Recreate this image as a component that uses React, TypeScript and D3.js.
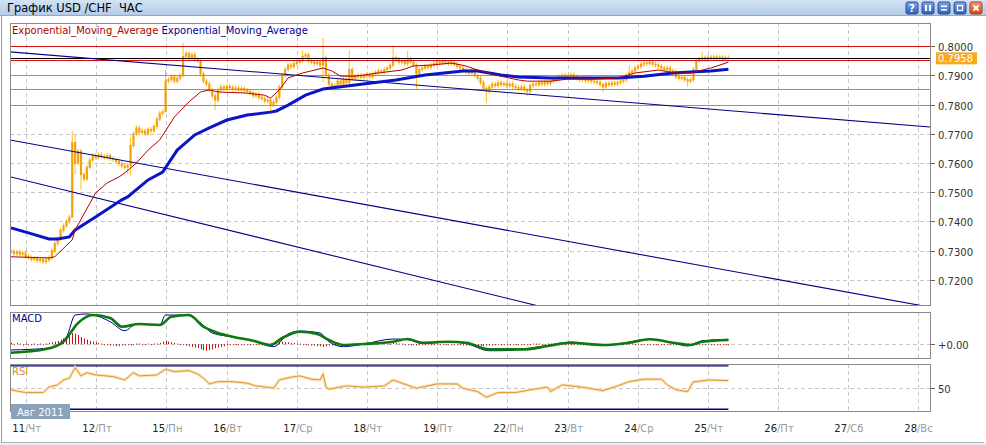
import React, { useEffect, useRef } from 'react';
import * as d3 from 'd3';

const W = 986;
const H = 445;

// day labels: hour-bar index where each trading day starts
const dayNums = ['11', '12', '15', '16', '17', '18', '19', '22', '23', '24', '25', '26', '27', '28'];
const dayNames = ['Чт', 'Пт', 'Пн', 'Вт', 'Ср', 'Чт', 'Пт', 'Пн', 'Вт', 'Ср', 'Чт', 'Пт', 'Сб', 'Вс'];
const dayStart = [5, 29, 53, 74, 98, 122, 146, 170, 191, 215, 239, 263, 287, 311];

// hourly closes USD/CHF
const closes = [
  0.7298, 0.7290, 0.7295, 0.7288, 0.7292, 0.7280, 0.7276, 0.7270, 0.7273, 0.7266,
  0.7270, 0.7262, 0.7268, 0.7275, 0.7300, 0.7325, 0.7340, 0.7370, 0.7385, 0.7400,
  0.7415, 0.7670, 0.7600, 0.7640, 0.7560, 0.7545, 0.7585, 0.7610, 0.7625, 0.7620,
  0.7628, 0.7622, 0.7618, 0.7625, 0.7615, 0.7612, 0.7605, 0.7598, 0.7590, 0.7585,
  0.7592, 0.7660, 0.7700, 0.7720, 0.7705, 0.7710, 0.7700, 0.7715, 0.7710, 0.7725,
  0.7750, 0.7770, 0.7775, 0.7880, 0.7885, 0.7895, 0.7880, 0.7890, 0.7900, 0.7965,
  0.7975, 0.7960, 0.7970, 0.7955, 0.7950, 0.7905, 0.7880, 0.7870, 0.7850, 0.7830,
  0.7815, 0.7850, 0.7860, 0.7855, 0.7862, 0.7858, 0.7852, 0.7856, 0.7850, 0.7855,
  0.7848, 0.7845, 0.7840, 0.7830, 0.7835, 0.7825, 0.7820, 0.7812, 0.7815, 0.7800,
  0.7808, 0.7825, 0.7860, 0.7900, 0.7920, 0.7935, 0.7930, 0.7940, 0.7945, 0.7950,
  0.7965, 0.7970, 0.7950, 0.7945, 0.7940, 0.7945, 0.7935, 0.7960, 0.7900, 0.7870,
  0.7855, 0.7865, 0.7880, 0.7870, 0.7885, 0.7875, 0.7920, 0.7890, 0.7895, 0.7900,
  0.7893, 0.7898, 0.7902, 0.7895, 0.7905, 0.7910, 0.7915, 0.7912, 0.7920, 0.7925,
  0.7935, 0.7960, 0.7955, 0.7945, 0.7950, 0.7940, 0.7955, 0.7945, 0.7935, 0.7905,
  0.7920, 0.7925, 0.7930, 0.7928, 0.7935, 0.7940, 0.7945, 0.7942, 0.7948, 0.7945,
  0.7940, 0.7945, 0.7938, 0.7930, 0.7925, 0.7918, 0.7912, 0.7908, 0.7915, 0.7900,
  0.7890, 0.7875, 0.7855, 0.7845, 0.7860, 0.7870, 0.7865, 0.7875, 0.7868, 0.7872,
  0.7865, 0.7870, 0.7862, 0.7858, 0.7855, 0.7860, 0.7850, 0.7845, 0.7865, 0.7870,
  0.7868, 0.7875, 0.7870, 0.7878, 0.7872, 0.7880, 0.7885, 0.7890, 0.7895, 0.7900,
  0.7893, 0.7898, 0.7902, 0.7895, 0.7890, 0.7885, 0.7888, 0.7882, 0.7886, 0.7880,
  0.7878, 0.7875, 0.7868, 0.7860, 0.7872, 0.7868, 0.7874, 0.7870, 0.7876, 0.7880,
  0.7885, 0.7900, 0.7910, 0.7915, 0.7925, 0.7930, 0.7938, 0.7942, 0.7940, 0.7945,
  0.7938, 0.7935, 0.7930, 0.7925, 0.7920, 0.7925, 0.7915, 0.7912, 0.7895, 0.7890,
  0.7893, 0.7885, 0.7880, 0.7885, 0.7920, 0.7950, 0.7955, 0.7960, 0.7955, 0.7962,
  0.7958, 0.7963, 0.7957, 0.7962, 0.7955, 0.7960, 0.7958,
];

// notable wicks [bar, price]
const spikeHighs: [number, number][] = [
  [21, 0.7700], [22, 0.7690], [41, 0.7680], [53, 0.7910], [59, 0.8003], [100, 0.7976],
  [107, 0.8020], [116, 0.7976], [131, 0.7993], [136, 0.7975], [212, 0.7925], [237, 0.7972],
];
const spikeLows: [number, number][] = [
  [21, 0.7420], [22, 0.7570], [24, 0.7518], [40, 0.7570], [41, 0.7566], [53, 0.7790],
  [70, 0.7790], [89, 0.7788], [107, 0.7885], [139, 0.7862], [163, 0.7813], [177, 0.7838],
  [203, 0.7850], [232, 0.7870],
];

// EMA lines [bar, price]
const emaFast: [number, number][] = [
  [0, 0.7279], [13, 0.7275], [15, 0.7279], [21, 0.7337], [22, 0.7371], [29, 0.7497],
  [33, 0.7532], [37, 0.7552], [39, 0.7566], [43, 0.7600], [47, 0.7644], [51, 0.7679],
  [56, 0.7757], [61, 0.7809], [65, 0.7843], [68, 0.7850], [71, 0.7843], [81, 0.7839],
  [87, 0.7832], [89, 0.7822], [92, 0.7850], [95, 0.7891], [100, 0.7908], [107, 0.7925],
  [110, 0.7915], [113, 0.7897], [118, 0.7897], [126, 0.7908], [134, 0.7918], [138, 0.7932],
  [144, 0.7935], [151, 0.7942], [156, 0.7932], [160, 0.7918], [166, 0.7901], [174, 0.7884],
  [177, 0.7880], [185, 0.7880], [191, 0.7887], [200, 0.7887], [208, 0.7891], [214, 0.7908],
  [222, 0.7918], [228, 0.7908], [233, 0.7908], [240, 0.7925], [246, 0.7945],
];
const emaSlow: [number, number][] = [
  [0, 0.7378], [6, 0.7361], [13, 0.7340], [16, 0.7340], [20, 0.7347], [22, 0.7371],
  [29, 0.7415], [38, 0.7474], [40, 0.7484], [47, 0.7542], [52, 0.7569], [57, 0.7644],
  [63, 0.7696], [68, 0.7720], [74, 0.7747], [81, 0.7764], [89, 0.7774], [91, 0.7778],
  [95, 0.7798], [101, 0.7832], [107, 0.7853], [118, 0.7867], [132, 0.7884], [142, 0.7901],
  [155, 0.7915], [160, 0.7915], [168, 0.7901], [174, 0.7894], [185, 0.7891], [208, 0.7891],
  [217, 0.7897], [227, 0.7908], [233, 0.7911], [240, 0.7915], [246, 0.7921],
];

const priceTicks = [0.80, 0.79, 0.78, 0.77, 0.76, 0.75, 0.74, 0.73, 0.72];
const redLevels = [0.8000, 0.7952];
const blackLevel = 0.7958;
const greenLevels = [0.7900, 0.7852, 0.7800];
const lastPrice = 0.7958;

// trend lines [[bar, price], [bar, price]]
const trendLines: [number, number][][] = [
  [[0, 0.7980], [315, 0.7723]],
  [[0, 0.7678], [300, 0.7134]],
  [[0, 0.7552], [200, 0.7064]],
];

// MACD in pips [bar, value]
const macdMain: [number, number][] = [
  [0, -8.8], [13, -5.8], [19, 11], [22, 44.4], [26, 46], [34, 34.2], [39, 20.5], [43, 30.7],
  [51, 29.2], [53, 44.4], [60, 44.4], [65, 32.3], [69, 17], [76, 11], [83, 4.9], [90, -3.8],
  [95, 15.5], [99, 20], [106, 17], [109, 3.8], [114, -3.8], [121, 0.3], [131, 7.9], [136, 7],
  [141, 1], [150, 3.3], [156, 1], [164, -9.9], [168, -9.9], [176, -7.3], [184, -2], [192, 3.3],
  [203, -2], [212, 3.3], [219, 7.9], [227, 1.8], [232, -2.7], [237, 5.3], [246, 7.5],
];
const macdSignal: [number, number][] = [
  [0, -12.9], [12, -7.3], [18, 3.8], [23, 32.3], [28, 44.4], [34, 39.9], [38, 26.6], [44, 30.7],
  [51, 29.2], [55, 41.9], [61, 44.4], [66, 26.6], [71, 17], [76, 11.4], [83, 5.3], [89, -1.2],
  [93, 9.4], [99, 19], [105, 15.5], [109, 6.4], [114, -1.2], [121, 0.3], [131, 3.8], [136, 7.9],
  [141, 2.3], [150, 3.8], [156, 2.3], [164, -7.8], [176, -7.8], [184, -2.7], [192, 2.3],
  [203, -1.2], [212, 2.3], [219, 7.5], [227, 2.3], [233, -1.2], [237, 3.8], [246, 6.4],
];
// hourly histogram, pips
const macdHist = [
  2, -1, 2, 1, -2, 1, 0, -1, 1, 0, 1, 0, 1, 2, 3, 4, 5, 7, 9, 12,
  15, 17, 16, 14, 11, 9, 7, 5, 4, 3, 2, 1, 0, -1, -2, -2, -3, -3, -2, -2,
  -1, -1, 0, 1, 1, 0, 0, 1, 0, 1, 1, 2, 4, 5, 4, 3, 2, 1, 0, -1,
  -2, -3, -4, -5, -6, -8, -9, -10, -9, -8, -6, -5, -4, -3, -2, -1, -1, 0, 0, -1,
  0, 0, -1, -1, 0, -1, -2, -2, -1, 1, 2, 3, 4, 4, 3, 3, 2, 2, 1, 1,
  0, -1, -1, -2, -2, -3, -3, -4, -3, -2, -2, -1, -1, -1, 0, 0, 0, 1, 0, 0,
  1, 0, 0, 0, 1, 1, 1, 2, 2, 1, 1, 2, 2, 1, 1, 0, 0, -1, -1, -2,
  -1, -1, 0, 0, 0, 0, 1, 0, 0, 0, 0, 0, -1, -1, -1, -2, -2, -2, -3, -3,
  -3, -3, -3, -2, -2, -2, -1, -1, -1, 0, 0, 0, 0, 0, 0, 0, 0, 0, 0, 1,
  1, 1, 0, 0, 1, 1, 0, 0, 0, -1, -1, 0, 0, 0, 0, 0, 0, -1, 0, 0,
  0, 0, 0, 0, 0, 0, 1, 1, 0, 0, 0, 1, 1, 1, 0, 0, 0, 0, 0, -1,
  -1, 0, 0, 0, 0, 0, 0, -1, -1, -1, 0, 0, 1, 1, 1, 0, 0, 0, 0, 0,
  0, 0, 0, 0, 0, 0, 0,
];

// RSI [bar, value]
const rsi: [number, number][] = [
  [0, 47.9], [5, 45.4], [11, 45.4], [13, 50.4], [16, 52.5], [18, 57.1], [20, 58.7], [22, 68.5],
  [24, 60.8], [26, 63.8], [29, 61.7], [35, 60.2], [39, 57.1], [42, 63.8], [44, 60.8], [50, 61.7],
  [53, 67], [56, 64.8], [61, 65.7], [64, 62.6], [66, 58.7], [68, 53.4], [71, 55.5], [76, 55.5],
  [81, 54.1], [84, 51.6], [88, 50.4], [90, 49.4], [92, 57.1], [96, 59.6], [99, 60.8], [103, 57.8],
  [106, 57.1], [107, 62.6], [108, 50.4], [109, 48.5], [115, 51.6], [121, 50.4], [128, 51.6],
  [131, 57.1], [134, 54.1], [139, 49.4], [146, 53.4], [153, 53.4], [155, 49.4], [160, 46.3],
  [163, 41.1], [167, 45.4], [173, 45.4], [178, 47.9], [184, 50.4], [185, 46.3], [189, 52.5],
  [196, 50.4], [203, 47.2], [208, 51.6], [212, 55.5], [217, 57.8], [223, 57.8], [225, 52.5],
  [228, 47.9], [232, 46.3], [234, 55.5], [235, 55.5], [239, 57.1], [246, 56.5],
];
const rsiLevels = [70, 30];

const FONT = 'DejaVu Sans, Verdana, sans-serif';

export default function App() {
  const svgRef = useRef<SVGSVGElement>(null);

  useEffect(() => {
    if (!svgRef.current) return;
    const svg = d3.select(svgRef.current);
    svg.selectAll('*').remove();

    const L = 10, R = 930;
    const main = { top: 23, bottom: 305 };
    const mp = { top: 312, bottom: 358 };
    const rp = { top: 364, bottom: 411 };
    const lastBar = closes.length - 1;

    const x = d3.scaleLinear().domain([0, 311]).range([11, 918]);
    const y = d3.scaleLinear().domain([0.7114, 0.8079]).range([main.bottom, main.top]);
    const ym = d3.scaleLinear().domain([-21, 49]).range([mp.bottom, mp.top]);
    const yr = d3.scaleLinear().domain([28.4, 71.8]).range([rp.bottom, rp.top]);

    svg.append('rect').attr('width', W).attr('height', H).attr('fill', '#fff');

    const defs = svg.append('defs');
    const tg = defs.append('linearGradient').attr('id', 'titlebar').attr('x1', 0).attr('y1', 0).attr('x2', 0).attr('y2', 1);
    tg.append('stop').attr('offset', '0%').attr('stop-color', '#d3e3f5');
    tg.append('stop').attr('offset', '100%').attr('stop-color', '#b2c9e6');
    const bg = defs.append('linearGradient').attr('id', 'btn').attr('x1', 0).attr('y1', 0).attr('x2', 0).attr('y2', 1);
    bg.append('stop').attr('offset', '0%').attr('stop-color', '#7fa6e4');
    bg.append('stop').attr('offset', '100%').attr('stop-color', '#2f5fb8');
    const rg = defs.append('linearGradient').attr('id', 'btnred').attr('x1', 0).attr('y1', 0).attr('x2', 0).attr('y2', 1);
    rg.append('stop').attr('offset', '0%').attr('stop-color', '#f59a6e');
    rg.append('stop').attr('offset', '100%').attr('stop-color', '#d4461c');

    [main, mp, rp].forEach((p, k) => {
      defs.append('clipPath').attr('id', `clip${k}`)
        .append('rect').attr('x', L).attr('y', p.top).attr('width', R - L).attr('height', p.bottom - p.top);
    });

    // title bar
    svg.append('rect').attr('width', W).attr('height', 16).attr('fill', 'url(#titlebar)');
    svg.append('line').attr('x1', 0).attr('x2', W).attr('y1', 15.5).attr('y2', 15.5).attr('stroke', '#8ea9cb');
    svg.append('text').attr('x', 7).attr('y', 12).attr('font-family', FONT).attr('font-size', 11.5)
      .style('white-space', 'pre').attr('fill', '#000').text('График USD /CHF  ЧАС');

    const btns = ['?', 'pause', 'min', 'max', 'close'];
    btns.forEach((b, k) => {
      const bx = 906 + k * 16;
      const g = svg.append('g').attr('transform', `translate(${bx},2)`);
      g.append('rect').attr('width', 12).attr('height', 12).attr('rx', 2)
        .attr('fill', b === 'close' ? 'url(#btnred)' : 'url(#btn)').attr('stroke', b === 'close' ? '#a8401c' : '#2a4f96');
      if (b === '?') {
        g.append('text').attr('x', 6).attr('y', 10).attr('text-anchor', 'middle').attr('font-family', FONT)
          .attr('font-size', 10).attr('font-weight', 'bold').attr('fill', '#fff').text('?');
      } else if (b === 'pause') {
        g.append('rect').attr('x', 3).attr('y', 3).attr('width', 2).attr('height', 6).attr('fill', '#fff');
        g.append('rect').attr('x', 7).attr('y', 3).attr('width', 2).attr('height', 6).attr('fill', '#fff');
      } else if (b === 'min') {
        g.append('rect').attr('x', 3).attr('y', 3.5).attr('width', 6).attr('height', 1.6).attr('fill', '#fff');
        g.append('rect').attr('x', 3).attr('y', 7).attr('width', 6).attr('height', 1.6).attr('fill', '#fff');
      } else if (b === 'max') {
        g.append('rect').attr('x', 3.5).attr('y', 3.5).attr('width', 5).attr('height', 5).attr('fill', 'none')
          .attr('stroke', '#fff').attr('stroke-width', 1.3);
      } else {
        g.append('path').attr('d', 'M3.5,3.5L8.5,8.5M8.5,3.5L3.5,8.5').attr('stroke', '#fff').attr('stroke-width', 1.8);
      }
    });

    // window border
    svg.append('line').attr('x1', 1.5).attr('x2', 1.5).attr('y1', 16).attr('y2', 443).attr('stroke', '#9a9a9a');
    svg.append('line').attr('x1', 1.5).attr('x2', 984).attr('y1', 442.5).attr('y2', 442.5).attr('stroke', '#b4b4b4');
    svg.append('rect').attr('x', 0).attr('y', 443).attr('width', W).attr('height', 2).attr('fill', '#ececec');

    const dash = '4,3';
    const gridColor = '#c6c6c6';

    // panels: vertical grid + clipped content group
    const panels = [main, mp, rp].map((p, k) => {
      const g = svg.append('g');
      g.selectAll('line.vg').data(dayStart).join('line')
        .attr('x1', (d) => Math.round(x(d)) + 0.5).attr('x2', (d) => Math.round(x(d)) + 0.5)
        .attr('y1', p.top).attr('y2', p.bottom)
        .attr('stroke', gridColor).attr('stroke-dasharray', dash);
      const inner = g.append('g').attr('clip-path', `url(#clip${k})`);
      return { g, inner, p };
    });

    // ---------- main panel ----------
    const mi = panels[0].inner;
    mi.selectAll('line.hg').data(priceTicks).join('line')
      .attr('x1', L).attr('x2', R)
      .attr('y1', (d) => Math.round(y(d)) + 0.5).attr('y2', (d) => Math.round(y(d)) + 0.5)
      .attr('stroke', gridColor).attr('stroke-dasharray', dash);

    // candles
    const bars = closes.map((c, i) => {
      const o = i === 0 ? c : closes[i - 1];
      const hiS = spikeHighs.find((s) => s[0] === i);
      const loS = spikeLows.find((s) => s[0] === i);
      return { i, o, c, hi: hiS ? hiS[1] : Math.max(o, c), lo: loS ? loS[1] : Math.min(o, c) };
    });
    mi.append('g').selectAll('line').data(bars).join('line')
      .attr('x1', (d) => x(d.i)).attr('x2', (d) => x(d.i))
      .attr('y1', (d) => y(d.hi) - 2.5).attr('y2', (d) => y(d.lo) + 2.5)
      .attr('stroke', '#ffbf1f').attr('stroke-width', 1);
    mi.append('g').selectAll('rect').data(bars).join('rect')
      .attr('x', (d) => x(d.i) - 1.1).attr('width', 2.2)
      .attr('y', (d) => Math.min(y(d.o), y(d.c)) - 0.5)
      .attr('height', (d) => Math.abs(y(d.o) - y(d.c)) + 1)
      .attr('fill', '#f4a20c');

    const hline = (v: number, color: string) =>
      mi.append('line').attr('x1', L).attr('x2', R)
        .attr('y1', Math.round(y(v)) + 0.5).attr('y2', Math.round(y(v)) + 0.5)
        .attr('stroke', color).attr('stroke-width', 1);
    greenLevels.forEach((v) => hline(v, '#46c846'));
    redLevels.forEach((v) => hline(v, '#d01010'));
    hline(blackLevel, '#000');

    trendLines.forEach(([a, b]) => {
      const f = d3.scaleLinear().domain([a[0], b[0]]).range([a[1], b[1]]);
      mi.append('line')
        .attr('x1', x(-5)).attr('y1', y(f(-5)))
        .attr('x2', x(330)).attr('y2', y(f(330)))
        .attr('stroke', '#000088').attr('stroke-width', 1.1);
    });

    const pline = d3.line<[number, number]>().x((d) => x(d[0])).y((d) => y(d[1]));
    mi.append('path').attr('d', pline(emaSlow)).attr('fill', 'none').attr('stroke', '#0a14c8').attr('stroke-width', 3);
    mi.append('path').attr('d', pline(emaFast)).attr('fill', 'none').attr('stroke', '#b30000').attr('stroke-width', 1);

    // legend
    const leg = svg.append('text').attr('x', 12).attr('y', 34).attr('font-family', FONT).attr('font-size', 10);
    leg.append('tspan').attr('fill', '#b00000').text('Exponential_Moving_Average ');
    leg.append('tspan').attr('fill', '#00008c').text('Exponential_Moving_Average');

    // price axis
    const axisG = svg.append('g').attr('font-family', FONT).attr('font-size', 10).attr('fill', '#333');
    priceTicks.forEach((t) => {
      const yy = Math.round(y(t)) + 0.5;
      axisG.append('line').attr('x1', R).attr('x2', R + 5).attr('y1', yy).attr('y2', yy).attr('stroke', '#666');
      axisG.append('text').attr('x', 938).attr('y', yy + 4).text(d3.format('.4f')(t));
    });
    const ly = y(lastPrice);
    svg.append('rect').attr('x', 936).attr('y', ly - 6).attr('width', 41).attr('height', 12).attr('fill', '#f7a81b');
    svg.append('text').attr('x', 938).attr('y', ly + 4).attr('font-family', FONT).attr('font-size', 10)
      .attr('fill', '#fff').text(d3.format('.4f')(lastPrice));

    // ---------- MACD ----------
    const mc = panels[1].inner;
    mc.append('line').attr('x1', L).attr('x2', R)
      .attr('y1', Math.round(ym(0)) + 0.5).attr('y2', Math.round(ym(0)) + 0.5)
      .attr('stroke', gridColor).attr('stroke-dasharray', dash);
    mc.append('g').selectAll('rect').data(macdHist).join('rect')
      .attr('x', (d, i) => Math.round(x(i))).attr('width', 1)
      .attr('y', (d) => Math.min(ym(0), ym(d)))
      .attr('height', (d) => Math.max(1, Math.abs(ym(d) - ym(0))))
      .attr('fill', '#cc1010');
    const mline = d3.line<[number, number]>().x((d) => x(d[0])).y((d) => ym(d[1])).curve(d3.curveMonotoneX);
    mc.append('path').attr('d', mline(macdMain)).attr('fill', 'none').attr('stroke', '#000090').attr('stroke-width', 1);
    mc.append('path').attr('d', mline(macdSignal)).attr('fill', 'none').attr('stroke', '#0c7a0c').attr('stroke-width', 2.6);
    svg.append('text').attr('x', 12).attr('y', 322).attr('font-family', FONT).attr('font-size', 10)
      .attr('fill', '#000088').text('MACD');
    const z = Math.round(ym(0)) + 0.5;
    svg.append('line').attr('x1', R).attr('x2', R + 5).attr('y1', z).attr('y2', z).attr('stroke', '#666');
    svg.append('text').attr('x', 938).attr('y', z + 4).attr('font-family', FONT).attr('font-size', 10)
      .attr('fill', '#333').text('+0.00');

    // ---------- RSI ----------
    const rc = panels[2].inner;
    rc.append('line').attr('x1', L).attr('x2', R)
      .attr('y1', Math.round(yr(50)) + 0.5).attr('y2', Math.round(yr(50)) + 0.5)
      .attr('stroke', gridColor).attr('stroke-dasharray', dash);
    rsiLevels.forEach((v) => {
      rc.append('line').attr('x1', L).attr('x2', x(lastBar))
        .attr('y1', yr(v)).attr('y2', yr(v)).attr('stroke', '#000090').attr('stroke-width', 1.3);
    });
    const rline = d3.line<[number, number]>().x((d) => x(d[0])).y((d) => yr(d[1]));
    rc.append('path').attr('d', rline(rsi)).attr('fill', 'none').attr('stroke', '#fbe1b8').attr('stroke-width', 3);
    rc.append('path').attr('d', rline(rsi)).attr('fill', 'none').attr('stroke', '#e3962c').attr('stroke-width', 1);
    svg.append('text').attr('x', 12).attr('y', 375).attr('font-family', FONT).attr('font-size', 10)
      .attr('fill', '#d88a28').text('RSI');
    const r50 = Math.round(yr(50)) + 0.5;
    svg.append('line').attr('x1', R).attr('x2', R + 5).attr('y1', r50).attr('y2', r50).attr('stroke', '#666');
    svg.append('text').attr('x', 938).attr('y', r50 + 4).attr('font-family', FONT).attr('font-size', 10)
      .attr('fill', '#333').text('50');

    // panel frames
    panels.forEach(({ g, p }) => {
      g.append('rect').attr('x', L + 0.5).attr('y', p.top + 0.5).attr('width', R - L).attr('height', p.bottom - p.top)
        .attr('fill', 'none').attr('stroke', '#8a8a8a');
    });

    // month badge
    svg.append('rect').attr('x', 11).attr('y', 404).attr('width', 59).attr('height', 15).attr('fill', '#8aa2bc');
    svg.append('text').attr('x', 17).attr('y', 415.5).attr('font-family', FONT).attr('font-size', 10)
      .attr('fill', '#fff').text('Авг 2011');

    // date axis
    const dg = svg.append('g').attr('font-family', FONT).attr('font-size', 10);
    dayStart.forEach((d, k) => {
      const xx = Math.round(x(d)) - 1;
      dg.append('text').attr('x', xx).attr('y', 432).attr('text-anchor', 'end').attr('fill', '#222').text(dayNums[k]);
      dg.append('text').attr('x', xx).attr('y', 432).attr('fill', '#999').text(`/${dayNames[k]}`);
    });
  }, []);

  return (
    <svg
      ref={svgRef}
      width={W}
      height={H}
      style={{ position: 'absolute', left: 0, top: 0, display: 'block' }}
    />
  );
}
